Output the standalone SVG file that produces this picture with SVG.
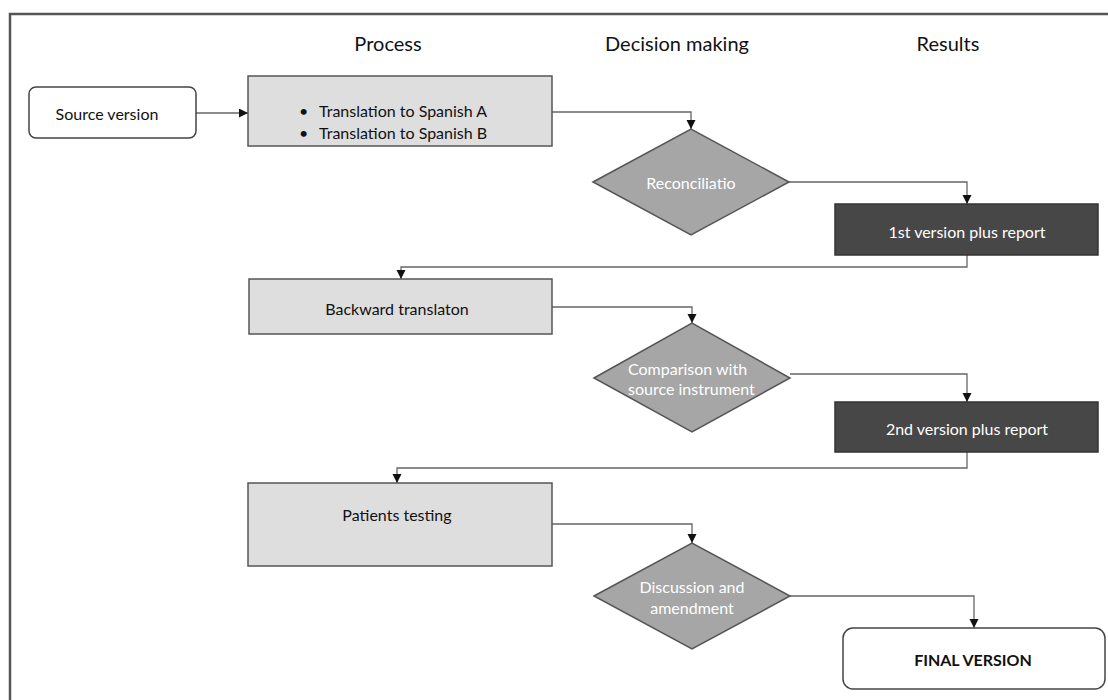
<svg xmlns="http://www.w3.org/2000/svg" width="1108" height="700" viewBox="0 0 1108 700">
<defs>
<marker id="arr" markerWidth="10" markerHeight="10" refX="9" refY="4.5" orient="auto" markerUnits="userSpaceOnUse">
<path d="M0,0 L9,4.5 L0,9 Z" fill="#111"/>
</marker>
<style>
text{font-family:Lato,"Liberation Sans",sans-serif;dominant-baseline:central}
.hdr{font-size:20px;fill:#111;text-anchor:middle}
.t{font-size:16px;fill:#111}
.c{text-anchor:middle}
.w{fill:#fff}
.light{fill:#dedede;stroke:#555;stroke-width:1.5}
.dia{fill:#a6a6a6;stroke:#555;stroke-width:1.5}
.dark{fill:#474747;stroke:#333;stroke-width:1.5}
.round{fill:#fff;stroke:#444;stroke-width:1.5}
.con{fill:none;stroke:#666;stroke-width:1.3;marker-end:url(#arr)}
</style>
</defs>
<rect width="1108" height="700" fill="#fff"/>
<path d="M10,712 V14 H1120" fill="none" stroke="#555" stroke-width="2.5"/>
<text class="hdr" x="388" y="43">Process</text>
<text class="hdr" x="677" y="43">Decision making</text>
<text class="hdr" x="948" y="43">Results</text>
<g id="connectors">
<path class="con" d="M196,113 H248"/>
<path class="con" d="M552,112 H691 V129"/>
<path class="con" d="M789,182 H967 V204"/>
<path class="con" d="M967,255 V267 H401 V279"/>
<path class="con" d="M552,307 H692 V323"/>
<path class="con" d="M790,374 H967 V402"/>
<path class="con" d="M967,452 V468 H397 V483"/>
<path class="con" d="M552,524 H692 V543"/>
<path class="con" d="M790,596 H974 V628"/>
</g>
<g id="source">
<rect class="round" x="29" y="87" width="167" height="51" rx="7"/>
<text class="t c" x="107" y="113">Source version</text>
</g>
<g id="translation">
<rect class="light" x="248" y="76" width="304" height="70"/>
<text class="t" x="299" y="110">•</text>
<text class="t" x="319" y="110">Translation to Spanish A</text>
<text class="t" x="299" y="132">•</text>
<text class="t" x="319" y="132">Translation to Spanish B</text>
</g>
<g id="reconciliation">
<polygon class="dia" points="593,182 691,129 789,182 691,235"/>
<text class="t c w" x="691" y="182">Reconciliatio</text>
</g>
<g id="version1">
<rect class="dark" x="835" y="204" width="263" height="51"/>
<text class="t c w" x="967" y="231">1st version plus report</text>
</g>
<g id="backward">
<rect class="light" x="249" y="279" width="303" height="55"/>
<text class="t c" x="397" y="308">Backward translaton</text>
</g>
<g id="comparison">
<polygon class="dia" points="594,378 692,323 790,378 692,432"/>
<text class="t w" x="628" y="368">Comparison with</text>
<text class="t w" x="628" y="388">source instrument</text>
</g>
<g id="version2">
<rect class="dark" x="835" y="402" width="263" height="50"/>
<text class="t c w" x="967" y="428">2nd version plus report</text>
</g>
<g id="patients">
<rect class="light" x="248" y="483" width="304" height="83"/>
<text class="t c" x="397" y="514">Patients testing</text>
</g>
<g id="discussion">
<polygon class="dia" points="594,596 692,543 790,596 692,649"/>
<text class="t c w" x="692" y="586">Discussion and</text>
<text class="t c w" x="692" y="607">amendment</text>
</g>
<g id="final">
<rect class="round" x="843" y="628" width="262" height="61" rx="10"/>
<text class="t c" x="973" y="659" font-weight="bold">FINAL VERSION</text>
</g>
</svg>
